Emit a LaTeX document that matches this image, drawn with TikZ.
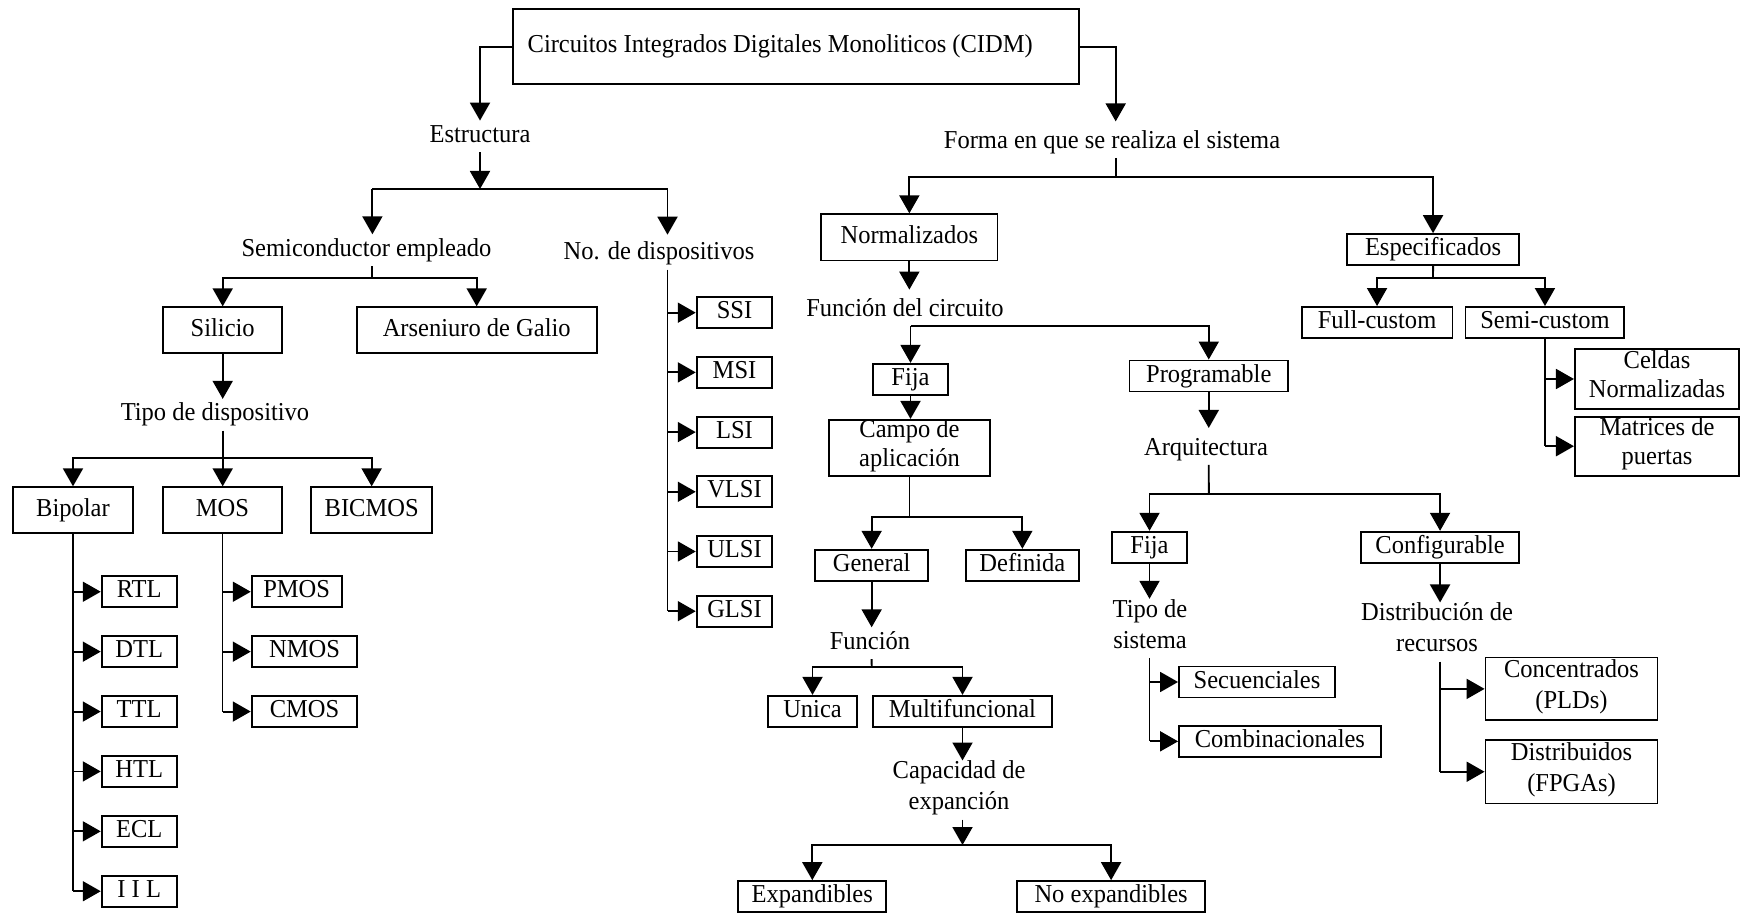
\documentclass[tikz,border=0pt]{standalone}
\usepackage{fontspec}
\setmainfont{Liberation Serif}[FakeStretch=0.95]
\usetikzlibrary{arrows.meta}
% fixed-size strut so every line has the same height and depth
\newcommand\stt{\rule[-4.65pt]{0pt}{15.5pt}}
% boxed node given by its corners: name, x1, y1, x2, y2, text
\newcommand\cbox[6]{%
  \node[boxn, minimum width={(#4-#2)*0.5pt}, minimum height={(#5-#3)*0.5pt}]
    (#1) at ({(#2+#4)/2},{(#3+#5)/2}) {#6};}
\tikzset{
  lbl/.style={font=\fontsize{12.9}{15.5}\selectfont, inner sep=0pt,
              execute at begin node=\stt, align=center},
  boxn/.style={lbl, draw, line width=0.95pt},
  ln/.style={line width=0.95pt},
  arr/.style={ln, -{Triangle[length=9pt,width=10pt]}}
}
\begin{document}
\begin{tikzpicture}[x=0.5pt,y=-0.5pt]
\useasboundingbox (0,0) rectangle (1749,913);

% ---------- root ----------
\cbox{cidm}{512.8}{9.3}{1079}{84.3}{Circuitos Integrados Digitales Monoliticos (CIDM)\hspace*{15.7pt}}

% ---------- left branch: structure ----------
\node[lbl] (estr)   at (480,136.5)   {Estructura};
\node[lbl] (semi)   at (366.5,250.2) {Semiconductor empleado};
\node[lbl] (nodisp) at (659,253.8)   {No. de dispositivos};
\cbox{silicio}{163.4}{307.3}{282}{353}{Silicio}
\cbox{arsenio}{356.7}{307.3}{596.7}{352.7}{Arseniuro de Galio}
\node[lbl] (tipod)  at (215,414.8)   {Tipo de dispositivo};
\cbox{bipolar}{12.7}{487.3}{133.3}{532.7}{Bipolar}
\cbox{mos}{163.3}{487.3}{281.7}{532.7}{MOS}
\cbox{bicmos}{311}{487.3}{432.3}{532.7}{BICMOS}

\cbox{rtl}{101.7}{576.5}{176.7}{607}{RTL}
\cbox{dtl}{101.7}{636.4}{176.7}{666.9}{DTL}
\cbox{ttl}{101.7}{696.3}{176.7}{726.8}{TTL}
\cbox{htl}{101.7}{756.2}{176.7}{786.7}{HTL}
\cbox{ecl}{101.7}{816.1}{176.7}{846.6}{ECL}
\cbox{iil}{101.7}{876}{176.7}{906.5}{I I L}

\cbox{pmos}{251.7}{576.5}{341.7}{607}{PMOS}
\cbox{nmos}{251.7}{636.4}{357.3}{666.9}{NMOS}
\cbox{cmos}{251.7}{696.3}{357.3}{726.8}{CMOS}

\cbox{ssi}{696.7}{297.7}{772.3}{327.7}{SSI}
\cbox{msi}{696.7}{357.4}{772.3}{387.4}{MSI}
\cbox{lsi}{696.7}{417.1}{772.3}{447.1}{LSI}
\cbox{vlsi}{696.7}{476.8}{772.3}{506.8}{VLSI}
\cbox{ulsi}{696.7}{536.5}{772.3}{566.5}{ULSI}
\cbox{glsi}{696.7}{596.2}{772.3}{626.2}{GLSI}

% ---------- right branch: realisation ----------
\node[lbl] (forma) at (1112,142.1) {Forma en que se realiza el sistema};
\cbox{norm}{821.2}{214.3}{997.5}{260.5}{Normalizados}
\cbox{espec}{1346.7}{234.3}{1519.4}{265}{Especificados}
\cbox{fullc}{1301.6}{307.3}{1452.5}{337.7}{Full-custom}
\cbox{semic}{1465.5}{307.3}{1624.4}{337.7}{Semi-custom}
\cbox{celdas}{1574.9}{349}{1739.1}{409}{\raisebox{-1pt}{Celdas}\\\stt Normalizadas}
\cbox{matrices}{1574.9}{416.7}{1739.1}{475.7}{\raisebox{-1pt}{Matrices de}\\\stt puertas}

\node[lbl] (fdc) at (905,310.5) {Función del circuito};
\cbox{fija1}{872.7}{364.3}{948.3}{394.3}{Fija}
\cbox{campo}{829}{420}{990}{476}{\raisebox{-1pt}{Campo de}\\\stt aplicación}
\cbox{general}{815}{550}{928.3}{580.5}{General}
\cbox{definida}{965.7}{550}{1079}{580.5}{Definida}
\node[lbl] (funcion) at (870,643.2) {Función};
\cbox{unica}{767.9}{696.7}{857.1}{726}{Unica}
\cbox{multi}{873.2}{696.7}{1051.8}{726}{Multifuncional}
\node[lbl] (capac) at (959,790) {Capacidad de\\\stt expanción};
\cbox{expand}{738.2}{881.7}{886.4}{911.5}{Expandibles}
\cbox{noexp}{1016.8}{881.7}{1205.4}{911.5}{No expandibles}

\cbox{prog}{1129.5}{361}{1288}{391}{Programable}
\node[lbl] (arq) at (1206,448.9) {Arquitectura};
\cbox{fija2}{1112}{532}{1187}{562.5}{Fija}
\cbox{config}{1360.7}{532}{1519.4}{562.5}{Configurable}
\node[lbl] (tipos) at (1150,628.3) {Tipo de\\\stt sistema};
\cbox{secuen}{1179}{667.3}{1335}{696.7}{Secuenciales}
\cbox{combin}{1179}{726.7}{1380.8}{756}{Combinacionales}
\node[lbl] (distr) at (1437,632) {Distribución de\\\stt recursos};
\cbox{concen}{1485.5}{657.5}{1657.5}{720.3}{Concentrados\\\stt (PLDs)}
\cbox{distrib}{1485.5}{740}{1657.5}{803.5}{Distribuidos\\\stt (FPGAs)}

% ---------- junction points ----------
\coordinate (jE)  at (480,189);
\coordinate (jSe) at (372.4,189);
\coordinate (jNo) at (667.5,189);
\coordinate (jSi) at (372.4,277.7);
\coordinate (jT)  at (222.7,457.6);
\coordinate (jN)  at (1115.7,176.7);
\coordinate (jEs) at (1433,277.7);
\coordinate (jC)  at (910,516.7);
\coordinate (jFu) at (871.7,666.7);
\coordinate (jCa) at (962.5,845);
\coordinate (jA)  at (1208.8,494.3);

% ---------- connectors: left ----------
\draw[arr] (cidm.west) -| (estr.north);
\draw[arr] (estr.south) -- (jE);
\draw[ln]  (jSe) -- (jNo);
\draw[arr] (jSe) -- (jSe |- semi.north);
\draw[arr, shorten >=1.6pt] (jNo) -- (jNo |- nodisp.north);
\draw[ln]  (jSe |- semi.south) -- (jSi);
\draw[arr] (jSi) -| (silicio.north);
\draw[arr] (jSi) -| (arsenio.north);
\draw[arr] (silicio.south) -- (silicio.south |- tipod.north);
\draw[ln]  (silicio.south |- tipod.south) -- (jT);
\draw[arr] (jT) -| (bipolar.north);
\draw[arr] (jT) -- (jT |- mos.north);
\draw[arr] (jT) -| (bicmos.north);

\draw[ln] (bipolar.south) -- (bipolar.south |- iil.west);
\foreach \n in {rtl,dtl,ttl,htl,ecl,iil}
  \draw[arr] (bipolar.south |- \n.west) -- (\n.west);
\draw[ln] (mos.south) -- (mos.south |- cmos.west);
\foreach \n in {pmos,nmos,cmos}
  \draw[arr] (mos.south |- \n.west) -- (\n.west);
\draw[ln] (jNo |- nodisp.south) -- (jNo |- glsi.west);
\foreach \n in {ssi,msi,lsi,vlsi,ulsi,glsi}
  \draw[arr] (jNo |- \n.west) -- (\n.west);

% ---------- connectors: right ----------
\draw[arr, shorten >=2.4pt] (cidm.east) -| (jN |- forma.north);
\draw[ln]  (jN |- forma.south) -- (jN);
\draw[arr] (jN) -| (norm.north);
\draw[arr] (jN) -| (espec.north);
\draw[ln]  (espec.south) -- (jEs);
\draw[arr] (jEs) -| (fullc.north);
\draw[arr] (jEs) -| (semic.north);
\draw[ln]  (semic.south) -- (semic.south |- matrices.west);
\draw[arr] (semic.south |- celdas.west) -- (celdas.west);
\draw[arr] (semic.south |- matrices.west) -- (matrices.west);

\draw[arr, shorten >=2.5pt] (norm.south) -- (norm.south |- fdc.north);
\draw[arr] (fdc.south -| fija1.north) -- (fija1.north);
\draw[arr] (fdc.south -| fija1.north) -| (prog.north);
\draw[arr] (fija1.south) -- (fija1.south |- campo.north);
\draw[ln]  (campo.south) -- (campo.south |- jC);
\draw[arr] (jC) -| (general.north);
\draw[arr] (jC) -| (definida.north);
\draw[arr] (general.south) -- (general.south |- funcion.north);
\draw[ln]  (general.south |- funcion.south) -- (jFu);
\draw[arr] (jFu) -| (unica.north);
\draw[arr] (jFu) -| (multi.north);
\draw[arr] (multi.south) -- (multi.south |- capac.north);
\draw[arr] (multi.south |- capac.south) -- (jCa);
\draw[arr] (jCa) -| (expand.north);
\draw[arr] (jCa) -| (noexp.north);

\draw[arr, shorten >=2.5pt] (prog.south) -- (prog.south |- arq.north);
\draw[ln]  (prog.south |- arq.south) -- (jA);
\draw[arr] (jA) -| (fija2.north);
\draw[arr] (jA) -| (config.north);
\draw[arr] (fija2.south) -- (fija2.south |- tipos.north);
\draw[ln]  (fija2.south |- tipos.south) -- (fija2.south |- combin.west);
\draw[arr] (fija2.south |- secuen.west) -- (secuen.west);
\draw[arr] (fija2.south |- combin.west) -- (combin.west);
\draw[arr] (config.south) -- (config.south |- distr.north);
\draw[ln]  (config.south |- distr.south) -- (config.south |- distrib.west);
\draw[arr] (config.south |- concen.west) -- (concen.west);
\draw[arr] (config.south |- distrib.west) -- (distrib.west);
\end{tikzpicture}
\end{document}
